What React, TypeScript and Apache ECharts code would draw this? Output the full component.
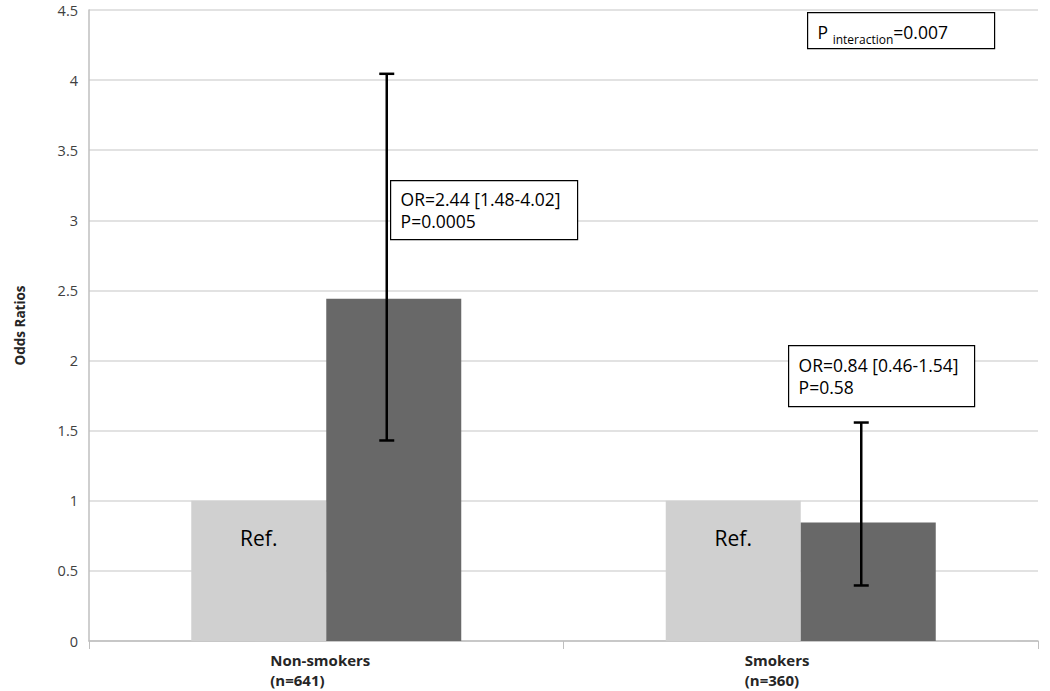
import React, { useEffect, useRef } from "react";
import * as echarts from "echarts";

const categories = ["Non-smokers\n(n=641)", "Smokers\n(n=360)"];
const refValues = [1, 1];
const orValues = [2.44, 0.845];
const ciLow = [1.43, 0.396];
const ciHigh = [4.045, 1.558];
const yTicks = { min: 0, max: 4.5, interval: 0.5 };

const FONT = "'Open Sans', 'Noto Sans', sans-serif";

export default function App() {
  const ref = useRef<HTMLDivElement>(null);
  useEffect(() => {
    if (!ref.current) return;
    const chart = echarts.init(ref.current, null, { renderer: "svg" });
    const errData = categories.map((_, i) => [i, ciLow[i], ciHigh[i]]);
    chart.setOption({
      animation: false,
      grid: { left: 89, right: 12, top: 10, bottom: 50 },
      xAxis: {
        type: "category",
        data: categories,
        axisLine: { lineStyle: { color: "#bfbfbf", width: 1.5 } },
        axisTick: { show: true, alignWithLabel: false, length: 8, lineStyle: { color: "#bfbfbf" } },
        axisLabel: {
          margin: 9,
          formatter: (v: string) => v.split("\n").map((s) => `{a|${s}}`).join("\n"),
          rich: {
            a: {
              width: 112,
              align: "left",
              fontFamily: FONT,
              fontWeight: "bold",
              fontSize: 15,
              lineHeight: 20,
              color: "#262626",
            },
          },
        },
      },
      yAxis: {
        type: "value",
        min: yTicks.min,
        max: yTicks.max,
        interval: yTicks.interval,
        name: "Odds Ratios",
        nameLocation: "middle",
        nameGap: 62,
        nameTextStyle: { fontFamily: FONT, fontWeight: "bold", fontSize: 13.5, color: "#262626" },
        axisLine: { show: true, lineStyle: { color: "#bfbfbf", width: 1.5 } },
        axisTick: { show: false },
        axisLabel: { margin: 11, fontFamily: FONT, fontSize: 14.5, lineHeight: 14, color: "#404040" },
        splitLine: { lineStyle: { color: "#d9d9d9", width: 1.5 } },
      },
      series: [
        {
          type: "bar",
          data: refValues,
          barWidth: 135,
          barGap: "0%",
          itemStyle: { color: "#d0d0d0" },
          label: {
            show: true,
            position: "insideTop",
            distance: 27,
            formatter: "Ref.",
            fontFamily: FONT,
            fontSize: 21,
            color: "#000",
          },
        },
        {
          type: "bar",
          data: orValues,
          barWidth: 135,
          barGap: "0%",
          itemStyle: { color: "#686868" },
        },
        {
          type: "custom",
          data: errData,
          z: 10,
          renderItem: (params: any, api: any) => {
            const idx = api.value(0);
            const lo = api.coord([idx, api.value(1)]);
            const hi = api.coord([idx, api.value(2)]);
            const x = lo[0] + 135 / 2 - 7;
            const cap = 7.5;
            const style = { stroke: "#000", lineWidth: 2.5, fill: "none" };
            return {
              type: "group",
              children: [
                { type: "line", shape: { x1: x, y1: lo[1], x2: x, y2: hi[1] }, style },
                { type: "line", shape: { x1: x - cap, y1: lo[1], x2: x + cap, y2: lo[1] }, style },
                { type: "line", shape: { x1: x - cap, y1: hi[1], x2: x + cap, y2: hi[1] }, style },
              ],
            };
          },
        },
      ],
      graphic: [
        {
          type: "group",
          left: 390,
          top: 180,
          z: 100,
          children: [
            { type: "rect", z: 100, shape: { x: 0, y: 0, width: 187, height: 59 }, style: { fill: "#fff", stroke: "#000", lineWidth: 1.2 } },
            {
              type: "text",
              z: 101,
              x: 10,
              y: 7,
              style: { text: "OR=2.44 [1.48-4.02]\nP=0.0005", fontFamily: FONT, fontSize: 17.5, lineHeight: 22, fill: "#000" },
            },
          ],
        },
        {
          type: "group",
          left: 788,
          top: 345,
          z: 100,
          children: [
            { type: "rect", z: 100, shape: { x: 0, y: 0, width: 186, height: 61 }, style: { fill: "#fff", stroke: "#000", lineWidth: 1.2 } },
            {
              type: "text",
              z: 101,
              x: 10,
              y: 8,
              style: { text: "OR=0.84 [0.46-1.54]\nP=0.58", fontFamily: FONT, fontSize: 17.5, lineHeight: 22, fill: "#000" },
            },
          ],
        },
        {
          type: "group",
          left: 807,
          top: 12,
          z: 100,
          children: [
            { type: "rect", z: 100, shape: { x: 0, y: 0, width: 187, height: 36 }, style: { fill: "#fff", stroke: "#000", lineWidth: 1.2 } },
            {
              type: "text",
              z: 101,
              x: 10,
              y: 6,
              style: {
                text: "{p|P }{s|interaction}{p|=0.007}",
                rich: {
                  p: { fontFamily: FONT, fontSize: 17.5, fill: "#000", verticalAlign: "bottom", lineHeight: 22 },
                  s: { fontFamily: FONT, fontSize: 12, fill: "#000", verticalAlign: "bottom", lineHeight: 22, padding: [0, 0, -5, 0] },
                },
              },
            },
          ],
        },
      ],
    });
    return () => chart.dispose();
  }, []);
  return (
    <div
      ref={ref}
      style={{ position: "absolute", left: 0, top: 0, width: 1050, height: 691, background: "#fff" }}
    />
  );
}
